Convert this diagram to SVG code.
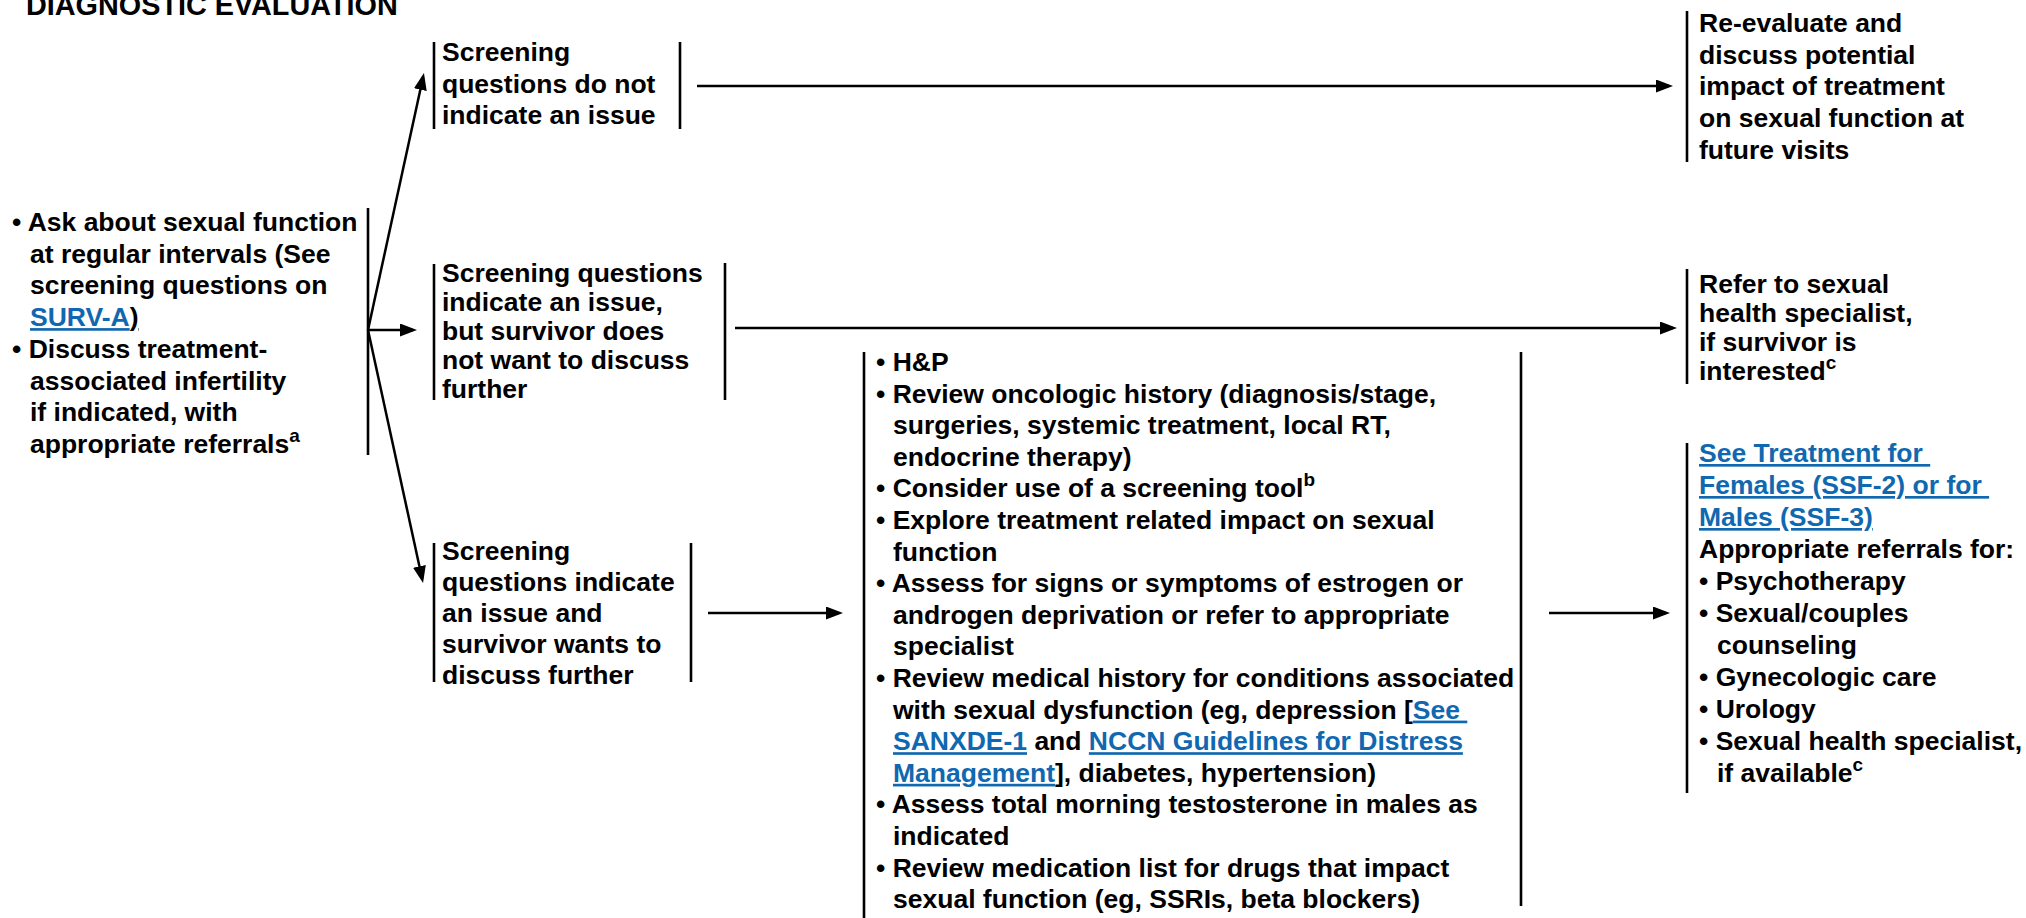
<svg xmlns="http://www.w3.org/2000/svg" width="2026" height="918" viewBox="0 0 2026 918">
  <style>
    text { font-family: "Liberation Sans", Arial, Helvetica, sans-serif; font-weight: bold; font-size: 26.5px; fill: #000; white-space: pre; }
    .title { font-size: 28.8px; }
    .link { fill: #1068b0; text-decoration: underline; }
    .ul { text-decoration: underline; }
    .sup { font-size: 19px; }
    .bracket { stroke: #000; stroke-width: 2.6; fill: none; }
    .conn { stroke: #000; stroke-width: 2.5; fill: none; marker-end: url(#arrow); }
  </style>
  <defs>
    <marker id="arrow" markerUnits="userSpaceOnUse" markerWidth="18" markerHeight="14" refX="13" refY="6.5" orient="auto">
      <path d="M0,0 L17,6.5 L0,13 Z" fill="#000"/>
    </marker>
  </defs>

  <rect width="2026" height="918" fill="#fff"/>

  <text class="title" x="26" y="15">DIAGNOSTIC EVALUATION</text>

  <!-- Initial assessment -->
  <g id="node-ask">
    <line class="bracket" x1="368" y1="208" x2="368" y2="455"/>
    <text x="12" y="231">• Ask about sexual function</text>
    <text x="30" y="262.7">at regular intervals (See</text>
    <text x="30" y="294.4">screening questions on</text>
    <text x="30" y="326.1"><tspan class="link">SURV-A</tspan><tspan class="ul">)</tspan></text>
    <text x="12" y="357.8">• Discuss treatment-</text>
    <text x="30" y="389.5">associated infertility</text>
    <text x="30" y="421.2">if indicated, with</text>
    <text x="30" y="452.9">appropriate referrals<tspan class="sup" dy="-11">a</tspan></text>
  </g>

  <!-- Screening outcome: no issue -->
  <g id="node-no-issue">
    <line class="bracket" x1="434" y1="42" x2="434" y2="129"/>
    <line class="bracket" x1="680" y1="42" x2="680" y2="129"/>
    <text x="442" y="61">Screening</text>
    <text x="442" y="92.5">questions do not</text>
    <text x="442" y="124">indicate an issue</text>
  </g>

  <!-- Screening outcome: issue, no further discussion -->
  <g id="node-no-discuss">
    <line class="bracket" x1="434" y1="264" x2="434" y2="400"/>
    <line class="bracket" x1="725" y1="263" x2="725" y2="400"/>
    <text x="442" y="282">Screening questions</text>
    <text x="442" y="311">indicate an issue,</text>
    <text x="442" y="340">but survivor does</text>
    <text x="442" y="369">not want to discuss</text>
    <text x="442" y="398">further</text>
  </g>

  <!-- Screening outcome: issue, wants to discuss -->
  <g id="node-wants">
    <line class="bracket" x1="434" y1="543" x2="434" y2="682"/>
    <line class="bracket" x1="691" y1="543" x2="691" y2="682"/>
    <text x="442" y="560">Screening</text>
    <text x="442" y="591">questions indicate</text>
    <text x="442" y="622">an issue and</text>
    <text x="442" y="653">survivor wants to</text>
    <text x="442" y="684">discuss further</text>
  </g>

  <!-- Work-up -->
  <g id="node-workup">
    <line class="bracket" x1="864" y1="352" x2="864" y2="918"/>
    <line class="bracket" x1="1521" y1="352" x2="1521" y2="906"/>
    <text x="876" y="371">• H&amp;P</text>
    <text x="876" y="402.6">• Review oncologic history (diagnosis/stage,</text>
    <text x="893" y="434.2">surgeries, systemic treatment, local RT,</text>
    <text x="893" y="465.8">endocrine therapy)</text>
    <text x="876" y="497.4">• Consider use of a screening tool<tspan class="sup" dy="-11">b</tspan></text>
    <text x="876" y="529">• Explore treatment related impact on sexual</text>
    <text x="893" y="560.6">function</text>
    <text x="876" y="592.2">• Assess for signs or symptoms of estrogen or</text>
    <text x="893" y="623.8">androgen deprivation or refer to appropriate</text>
    <text x="893" y="655.4">specialist</text>
    <text x="876" y="687">• Review medical history for conditions associated</text>
    <text x="893" y="718.6">with sexual dysfunction (eg, depression [<tspan class="link">See </tspan></text>
    <text x="893" y="750.2"><tspan class="link">SANXDE-1</tspan> and <tspan class="link">NCCN Guidelines for Distress</tspan></text>
    <text x="893" y="781.8"><tspan class="link">Management</tspan>], diabetes, hypertension)</text>
    <text x="876" y="813.4">• Assess total morning testosterone in males as</text>
    <text x="893" y="845">indicated</text>
    <text x="876" y="876.6">• Review medication list for drugs that impact</text>
    <text x="893" y="908.2">sexual function (eg, SSRIs, beta blockers)</text>
  </g>

  <!-- Re-evaluate -->
  <g id="node-reevaluate">
    <line class="bracket" x1="1687" y1="11" x2="1687" y2="162"/>
    <text x="1699" y="32">Re-evaluate and</text>
    <text x="1699" y="63.7">discuss potential</text>
    <text x="1699" y="95.4">impact of treatment</text>
    <text x="1699" y="127">on sexual function at</text>
    <text x="1699" y="158.7">future visits</text>
  </g>

  <!-- Refer if interested -->
  <g id="node-refer">
    <line class="bracket" x1="1687" y1="269" x2="1687" y2="384"/>
    <text x="1699" y="293">Refer to sexual</text>
    <text x="1699" y="322">health specialist,</text>
    <text x="1699" y="351">if survivor is</text>
    <text x="1699" y="380">interested<tspan class="sup" dy="-11">c</tspan></text>
  </g>

  <!-- Treatment and referrals -->
  <g id="node-treatment">
    <line class="bracket" x1="1687" y1="443" x2="1687" y2="793"/>
    <text x="1699" y="462"><tspan class="link">See Treatment for </tspan></text>
    <text x="1699" y="494"><tspan class="link">Females (SSF-2) or for </tspan></text>
    <text x="1699" y="526"><tspan class="link">Males (SSF-3)</tspan></text>
    <text x="1699" y="558">Appropriate referrals for:</text>
    <text x="1699" y="590">• Psychotherapy</text>
    <text x="1699" y="622">• Sexual/couples</text>
    <text x="1717" y="654">counseling</text>
    <text x="1699" y="686">• Gynecologic care</text>
    <text x="1699" y="718">• Urology</text>
    <text x="1699" y="750">• Sexual health specialist,</text>
    <text x="1717" y="782">if available<tspan class="sup" dy="-11">c</tspan></text>
  </g>

  <!-- Connectors -->
  <g id="connectors">
    <line class="conn" x1="368" y1="330" x2="423.1" y2="76.9"/>
    <line class="conn" x1="368" y1="330" x2="413" y2="330"/>
    <line class="conn" x1="368" y1="330" x2="422.2" y2="579.1"/>
    <line class="conn" x1="697" y1="86" x2="1669" y2="86"/>
    <line class="conn" x1="735" y1="328" x2="1673" y2="328"/>
    <line class="conn" x1="708" y1="613" x2="839" y2="613"/>
    <line class="conn" x1="1549" y1="613" x2="1666" y2="613"/>
  </g>
</svg>
